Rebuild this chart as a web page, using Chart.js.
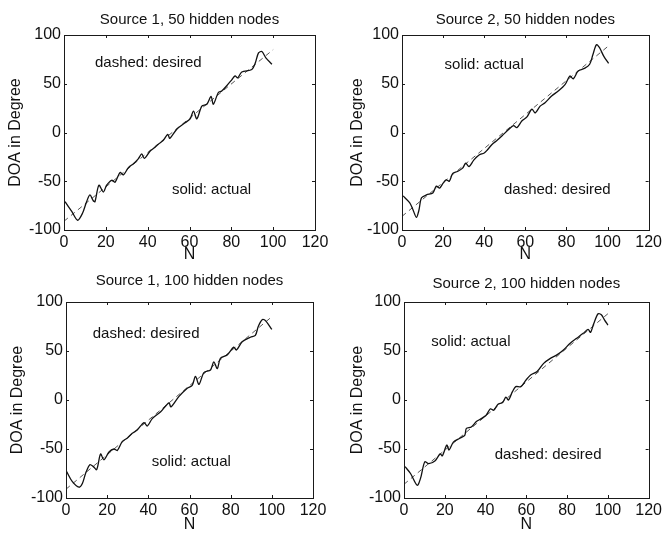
<!DOCTYPE html>
<html>
<head>
<meta charset="utf-8">
<script src="https://cdn.jsdelivr.net/npm/chart.js@4.4.1/dist/chart.umd.min.js"></script>
<style>
  body { margin: 0; background: #fff; }
  #wrap { position: relative; width: 665px; height: 535px; }
  canvas { position: absolute; }
</style>
</head>
<body>
<div id="wrap">
  <canvas id="c1" style="left:0px;top:0px;width:332px;height:267px" width="332" height="267"></canvas>
  <canvas id="c2" style="left:332px;top:0px;width:333px;height:267px" width="333" height="267"></canvas>
  <canvas id="c3" style="left:0px;top:267px;width:332px;height:268px" width="332" height="268"></canvas>
  <canvas id="c4" style="left:332px;top:267px;width:333px;height:268px" width="333" height="268"></canvas>
</div>
<script>
// axis ticks
var xTicks = [0, 20, 40, 60, 80, 100, 120];
var yTicks = [-100, -50, 0, 50, 100];

// desired DOA (straight line, dashed)
var desiredN = [0, 100];
var desired1 = [-91, 85];
var desired2 = [-86, 88];

// Source 1, 50 hidden nodes
var n1 = [0.5, 3.7, 6.5, 8.8, 10.8, 12.4, 14, 14.8, 16.7, 18.8, 20.4, 22.8, 24.4, 26.8, 28.4, 30.8, 33.2, 35.5, 37.2, 38.4,
          41.2, 43, 45.1, 47.5, 49.6, 50.6, 53.9, 57.9, 60.3, 61.9, 63.5, 65.9, 68.3, 70.3, 71.4, 73.8, 75.4, 77.8, 80.2, 81.8,
          83, 85, 89.8, 91.4, 93, 94.6, 96.5, 99.4];
var actual1 = [-71, -81, -90, -83, -71, -64, -70, -71, -54, -61, -54, -49, -51, -41, -43.5, -36, -32, -27, -22, -26.5,
               -19, -16, -12, -8, -2, -6, 3.4, 10, 14, 22, 14, 27, 29, 37, 29, 41, 42.5, 48, 54, 58,
               56, 62, 64.6, 71, 81.6, 83, 76.5, 70];

// Source 2, 50 hidden nodes
var n2 = [0.5, 3.7, 5.3, 7, 8.2, 9.5, 11.9, 15, 16.7, 18.3, 20, 21.5, 23, 24.7, 27, 29.5, 31, 32.6, 35, 37.5,
          40, 41.5, 43.9, 46.3, 48.7, 52, 54.3, 55.9, 58.4, 60.8, 63.2, 64.8, 67.2, 69.6, 72.8, 76, 79.3, 81.7, 83.3, 85.7,
          89, 91.3, 92.9, 94.6, 96.1, 98.2, 100.5];
var actual2 = [-65, -72, -79, -87, -80, -67, -64, -62, -55, -57, -52, -48.5, -50, -42, -40, -36.5, -31.5, -35, -28, -23,
               -21, -18, -12, -8, -3.4, 3.4, 7, 5, 12, 16, 24, 20, 27, 30.6, 37.4, 42.5, 49, 58, 55, 63,
               66, 70, 80, 90, 87, 78, 71];

// Source 1, 100 hidden nodes
var n3 = [0.3, 3, 6.3, 8, 9.5, 11.6, 13.3, 14.9, 16.8, 18.4, 20.9, 23.3, 24.9, 27.3, 29.7, 32.2, 34.6, 37.9, 39.5, 41.9,
          46, 50, 51, 54.8, 58.9, 61.3, 62.9, 64.6, 67, 70.2, 71.8, 73.5, 75, 78.3, 81.5, 82.8, 85.6, 89.6, 92, 93.4,
          95.3, 96.9, 100];
var actual3 = [-73, -83, -89, -85, -75, -66, -68, -71, -55, -61, -53, -50, -51.5, -42.5, -39, -34, -30.6, -23, -26.5, -19,
               -12, -3, -7, 3.4, 12, 15, 24, 16, 28, 30.6, 39, 32, 42.5, 46, 54, 51, 59.5, 64, 66, 75,
               82, 81, 72];

// Source 2, 100 hidden nodes
var n4 = [0.5, 3.2, 6.5, 8.1, 10.2, 12.1, 15.3, 17.7, 18.8, 21, 22.1, 24.2, 27.4, 29.8, 30.6, 33, 35.5, 37.9, 40.3, 42.4,
          44, 46, 48.4, 50, 51.2, 53.2, 54.8, 57.3, 59.7, 62.1, 65.3, 68.5, 71.8, 75, 78.2, 81.5, 84.7, 87.9, 90.3, 91.5,
          93, 95.2, 96.8, 98.4, 100];
var actual4 = [-68, -75, -87, -80, -63, -65, -62, -55, -57, -46, -51, -43, -39, -36, -29, -27.5, -22, -19, -15.5, -9,
               -10.5, -4.5, -2.5, 3, 0, 8.5, 13.6, 13.6, 20, 25.5, 29, 37.4, 42.5, 46, 51, 58, 63, 68, 72, 69,
               77.6, 88, 87, 81.6, 76.5];

var FONT = "'Liberation Sans', Arial, Helvetica, sans-serif";

function pts(xs, ys) {
    var out = [];
    for (var i = 0; i < xs.length; i++)
        out.push({x: xs[i], y: ys[i]});
    return out;
}

// matlab style box with inward ticks, plus text notes
var boxPlugin = {
    id: 'box',
    afterDraw: function(chart) {
        var ctx = chart.ctx, a = chart.chartArea;
        var xs = chart.scales.x, ys = chart.scales.y;
        ctx.save();
        ctx.strokeStyle = '#1a1a1a';
        ctx.lineWidth = 1;
        ctx.strokeRect(Math.round(a.left) + 0.5, Math.round(a.top) + 0.5,
                       Math.round(a.right - a.left), Math.round(a.bottom - a.top));
        ctx.beginPath();
        var tl = 3;
        xTicks.forEach(function(v) {
            var px = Math.round(xs.getPixelForValue(v)) + 0.5;
            ctx.moveTo(px, a.bottom); ctx.lineTo(px, a.bottom - tl);
            ctx.moveTo(px, a.top); ctx.lineTo(px, a.top + tl);
        });
        yTicks.forEach(function(v) {
            var py = Math.round(ys.getPixelForValue(v)) + 0.5;
            ctx.moveTo(a.left, py); ctx.lineTo(a.left + tl, py);
            ctx.moveTo(a.right, py); ctx.lineTo(a.right - tl, py);
        });
        ctx.stroke();

        var notes = chart.options.plugins.box.notes || [];
        ctx.fillStyle = '#111';
        ctx.font = '15px ' + FONT;
        ctx.textAlign = 'left';
        ctx.textBaseline = 'middle';
        notes.forEach(function(n) {
            ctx.fillText(n.text, xs.getPixelForValue(n.x), ys.getPixelForValue(n.y));
        });
        ctx.restore();
    }
};

function makeChart(id, cfg) {
    return new Chart(id, {
        type: 'scatter',
        data: {
            datasets: [{
                data: pts(cfg.n, cfg.actual),
                borderColor: '#111',
                borderWidth: 1.3,
                showLine: true,
                pointRadius: 0,
                tension: 0.3,
                fill: false
            }, {
                data: pts(desiredN, cfg.desired),
                borderColor: '#555',
                borderWidth: 1,
                borderDash: [5, 4],
                showLine: true,
                pointRadius: 0,
                fill: false
            }]
        },
        options: {
            responsive: false,
            animation: false,
            events: [],
            layout: {padding: {left: 0, right: cfg.padRight, top: 0, bottom: 0}},
            plugins: {
                legend: {display: false},
                tooltip: {enabled: false},
                title: {
                    display: true,
                    text: cfg.title,
                    fullSize: false,
                    color: '#111',
                    font: {family: FONT, size: 15, weight: 'normal', lineHeight: 1.2},
                    padding: {top: cfg.titleTop, bottom: 35 - 18 - cfg.titleTop}
                },
                box: {notes: cfg.notes}
            },
            scales: {
                x: {
                    type: 'linear',
                    min: 0, max: 120,
                    afterBuildTicks: function(s) { s.ticks = xTicks.map(function(v) { return {value: v}; }); },
                    afterFit: function(s) { s.height = cfg.xHeight; },
                    grid: {display: true, drawOnChartArea: false, drawTicks: false},
                    border: {display: true, color: '#1a1a1a'},
                    ticks: {color: '#111', padding: 3, maxRotation: 0, font: {family: FONT, size: 16}},
                    title: {display: true, text: 'N', color: '#111',
                            font: {family: FONT, size: 16, lineHeight: 1.2},
                            padding: {top: 0, bottom: cfg.nPad}}
                },
                y: {
                    type: 'linear',
                    min: -100, max: 100,
                    afterBuildTicks: function(s) { s.ticks = yTicks.map(function(v) { return {value: v}; }); },
                    afterFit: function(s) { s.width = cfg.yWidth; },
                    grid: {display: true, drawOnChartArea: false, drawTicks: false},
                    border: {display: true, color: '#1a1a1a'},
                    ticks: {color: '#111', padding: 3, font: {family: FONT, size: 16}},
                    title: {display: true, text: 'DOA in Degree', color: '#111',
                            font: {family: FONT, size: 16, lineHeight: 1.2},
                            padding: {top: cfg.yPad, bottom: 0}}
                }
            }
        },
        plugins: [boxPlugin]
    });
}

makeChart('c1', {
    n: n1, actual: actual1, desired: desired1,
    title: 'Source 1, 50 hidden nodes',
    titleTop: 10.5, yWidth: 64, yPad: 6.4, xHeight: 37, nPad: 2.4, padRight: 17,
    notes: [{text: 'dashed: desired', x: 14.8, y: 71}, {text: 'solid: actual', x: 51.6, y: -59}]
});
makeChart('c2', {
    n: n2, actual: actual2, desired: desired2,
    title: 'Source 2, 50 hidden nodes',
    titleTop: 11, yWidth: 70, yPad: 15.9, xHeight: 37, nPad: 2.4, padRight: 14,
    notes: [{text: 'solid: actual', x: 20.7, y: 69}, {text: 'dashed: desired', x: 49.6, y: -59}]
});
makeChart('c3', {
    n: n3, actual: actual3, desired: desired1,
    title: 'Source 1, 100 hidden nodes',
    titleTop: 5, yWidth: 66, yPad: 7.9, xHeight: 37, nPad: 0.4, padRight: 19,
    notes: [{text: 'dashed: desired', x: 13, y: 68}, {text: 'solid: actual', x: 41.6, y: -63}]
});
makeChart('c4', {
    n: n4, actual: actual4, desired: desired2,
    title: 'Source 2, 100 hidden nodes',
    titleTop: 7.5, yWidth: 72, yPad: 15.9, xHeight: 37, nPad: 0.4, padRight: 13,
    notes: [{text: 'solid: actual', x: 13.4, y: 59.5}, {text: 'dashed: desired', x: 44.5, y: -56}]
});
</script>
</body>
</html>
